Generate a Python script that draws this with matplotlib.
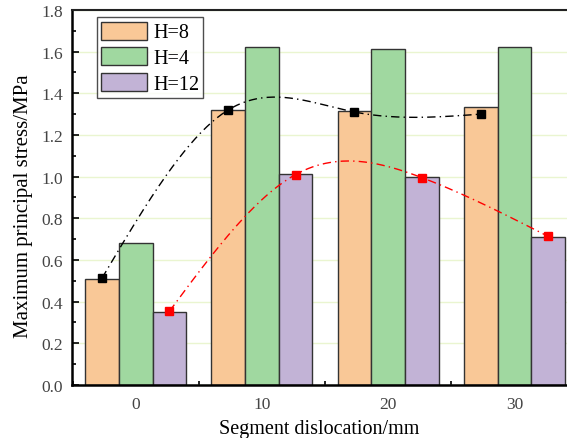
import numpy as np
import matplotlib
matplotlib.use('Agg')
import matplotlib.pyplot as plt
from matplotlib.ticker import MultipleLocator, FormatStrFormatter

# data
offsets = [0, 10, 20, 30]
h8 = [0.51, 1.32, 1.315, 1.335]
h4 = [0.683, 1.62, 1.615, 1.62]
h12 = [0.351, 1.012, 0.998, 0.712]
trend_h8 = [0.512, 1.32, 1.31, 1.30]
trend_h12 = [0.353, 1.01, 0.995, 0.713]
tick_labels = ['0', '10', '20', '30']


def natural_spline(x, y, n=200):
    # natural cubic spline through the points (like Origin's spline connect)
    x = np.asarray(x, float)
    y = np.asarray(y, float)
    h = np.diff(x)
    k = len(x)
    A = np.zeros((k, k))
    b = np.zeros(k)
    A[0, 0] = A[-1, -1] = 1
    for i in range(1, k - 1):
        A[i, i - 1] = h[i - 1]
        A[i, i] = 2 * (h[i - 1] + h[i])
        A[i, i + 1] = h[i]
        b[i] = 6 * ((y[i + 1] - y[i]) / h[i] - (y[i] - y[i - 1]) / h[i - 1])
    M = np.linalg.solve(A, b)
    xs = np.linspace(x[0], x[-1], n)
    idx = np.clip(np.searchsorted(x, xs) - 1, 0, k - 2)
    x0, x1 = x[idx], x[idx + 1]
    hh = x1 - x0
    ys = (M[idx] * (x1 - xs) ** 3 / (6 * hh) + M[idx + 1] * (xs - x0) ** 3 / (6 * hh)
          + (y[idx] / hh - M[idx] * hh / 6) * (x1 - xs)
          + (y[idx + 1] / hh - M[idx + 1] * hh / 6) * (xs - x0))
    return xs, ys


plt.rcParams['font.family'] = ['Liberation Serif', 'DejaVu Serif']

fig = plt.figure(figsize=(5.67, 4.39), dpi=100)
ax = fig.add_axes([0.127, 0.121, 0.873, 0.854])

x = np.array(offsets, float)
w = 2.67
edge = '#333333'
ax.bar(x - w, h8, w, color='#F9C897', edgecolor=edge, linewidth=1, label='H=8', zorder=2)
ax.bar(x, h4, w, color='#A0D8A0', edgecolor=edge, linewidth=1, label='H=4', zorder=2)
ax.bar(x + w, h12, w, color='#C2B3D6', edgecolor=edge, linewidth=1, label='H=12', zorder=2)

dash = (6, 3, 1, 3)
xs, ys = natural_spline(x - w, trend_h8)
ax.plot(xs, ys, color='black', linewidth=1, dashes=dash, zorder=3)
ax.plot(x - w, trend_h8, 's', color='black', markersize=6, zorder=4)
xs, ys = natural_spline(x + w, trend_h12)
ax.plot(xs, ys, color='red', linewidth=1, dashes=dash, zorder=3)
ax.plot(x + w, trend_h12, 's', color='red', markersize=6, zorder=4)

ax.set_xlim(-5.04, 34.16)
ax.set_ylim(0, 1.8)
ax.set_xticks(x)
ax.set_xticklabels(tick_labels)
ax.xaxis.set_minor_locator(MultipleLocator(5))
ax.yaxis.set_major_locator(MultipleLocator(0.2))
ax.yaxis.set_minor_locator(MultipleLocator(0.1))
ax.yaxis.set_major_formatter(FormatStrFormatter('%.1f'))
ax.yaxis.grid(True, color='#EAF5D0', linewidth=1, zorder=0)
ax.set_axisbelow(True)

ax.tick_params(axis='both', which='major', direction='in', length=5, width=1.2,
               labelsize=12.5, labelcolor='#444444', pad=6.5)
ax.tick_params(axis='both', which='minor', direction='in', length=3, width=1.2)
ax.tick_params(axis='x', which='major', pad=8)

for side in ['left', 'bottom']:
    ax.spines[side].set_linewidth(1.8)
ax.spines['top'].set_linewidth(1.5)
ax.spines['top'].set_color('#222222')
ax.spines['right'].set_visible(False)

ax.set_xlabel('Segment dislocation/mm', fontsize=14.5, labelpad=5)
ax.set_ylabel('Maximum principal stress/MPa', fontsize=15)
ax.yaxis.set_label_coords(-0.079, 0.48)

leg = ax.legend(loc='upper left', bbox_to_anchor=(0.05, 0.98), fontsize=14.5,
                frameon=True, fancybox=False, edgecolor='#222222',
                handlelength=2.3, handleheight=1.0, handletextpad=0.3,
                labelspacing=0.25, borderpad=0.2, borderaxespad=0)
leg.get_frame().set_linewidth(1)

fig.savefig('out.png', dpi=100)
